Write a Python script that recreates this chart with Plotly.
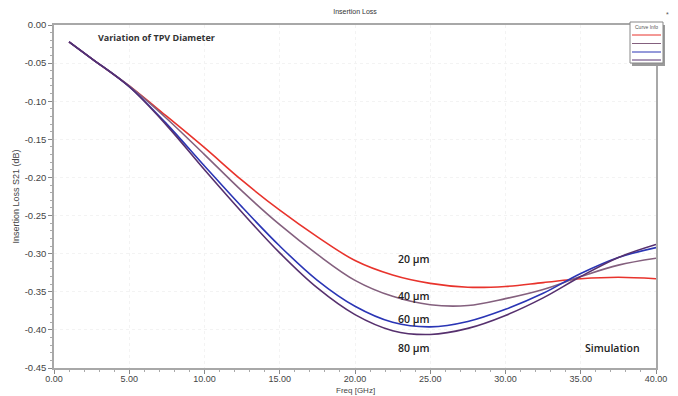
import plotly.graph_objects as go

# ---- data ----
freq_ghz = [1, 2.5, 5, 7.5, 10, 12.5, 15, 17.5, 20, 22.5, 25, 27.5, 30, 32.5, 35, 37.5, 40]
s21_20um = [-0.022, -0.044, -0.080, -0.120, -0.161, -0.204, -0.243, -0.278, -0.309, -0.328,
            -0.339, -0.344, -0.343, -0.338, -0.333, -0.331, -0.333]
s21_40um = [-0.022, -0.044, -0.080, -0.123, -0.170, -0.218, -0.262, -0.301, -0.335, -0.356,
            -0.367, -0.368, -0.359, -0.347, -0.330, -0.315, -0.306]
s21_60um = [-0.022, -0.044, -0.081, -0.130, -0.185, -0.239, -0.290, -0.335, -0.369, -0.390,
            -0.396, -0.389, -0.373, -0.352, -0.326, -0.305, -0.292]
s21_80um = [-0.022, -0.044, -0.081, -0.132, -0.190, -0.246, -0.299, -0.345, -0.380, -0.401,
            -0.406, -0.398, -0.381, -0.358, -0.330, -0.305, -0.288]
series_names = ["20 µm", "40 µm", "60 µm", "80 µm"]
series_colors = ["#e8332c", "#84607e", "#2a35b5", "#56306e"]

x_tick_vals = [0, 5, 10, 15, 20, 25, 30, 35, 40]
x_tick_text = ["0.00", "5.00", "10.00", "15.00", "20.00", "25.00", "30.00", "35.00", "40.00"]
y_tick_vals = [0, -0.05, -0.10, -0.15, -0.20, -0.25, -0.30, -0.35, -0.40, -0.45]
y_tick_text = ["0.00", "-0.05", "-0.10", "-0.15", "-0.20", "-0.25", "-0.30", "-0.35", "-0.40", "-0.45"]

# label positions (data coords) for the curve labels
label_x = [23.9, 23.9, 23.9, 23.9]
label_y = [-0.307, -0.355, -0.386, -0.424]

W, H = 678, 396
ML, MR, MT, MB = 54, 22, 25, 28
PW, PH = W - ML - MR, H - MT - MB
PB = H - MB  # plot bottom pixel


def px(xp):
    return (xp - ML) / PW


def py(yp):
    return (PB - yp) / PH


fig = go.Figure()
for vals, name, col in zip([s21_20um, s21_40um, s21_60um, s21_80um], series_names, series_colors):
    fig.add_trace(go.Scatter(x=freq_ghz, y=vals, mode="lines", name=name,
                             line=dict(color=col, width=1.6, shape="spline", smoothing=1.0),
                             showlegend=False))

axfont = "Liberation Sans, Arial, sans-serif"
tickfont = dict(family=axfont, size=9.5, color="#444444")
fig.update_layout(
    width=W, height=H,
    margin=dict(l=ML, r=MR, t=MT, b=MB, autoexpand=False),
    paper_bgcolor="white", plot_bgcolor="white",
    title=dict(text="Insertion Loss", x=0.5, xref="paper", y=1 - 12 / H, yanchor="middle",
               font=dict(family=axfont, size=7, color="#333333")),
    xaxis=dict(range=[0, 40], tickvals=x_tick_vals, ticktext=x_tick_text,
               tickfont=dict(family=axfont, size=9, color="#444444"),
               automargin=False, ticklabelstandoff=-3,
               ticks="outside", ticklen=4, tickcolor="#888888",
               minor=dict(dtick=1, ticks="outside", ticklen=2, tickcolor="#aaaaaa", showgrid=False),
               showline=True, linecolor="#a8a8a8", linewidth=1.5, mirror=True,
               showgrid=True, gridcolor="#f3f3f3", griddash="dot", zeroline=False),
    yaxis=dict(range=[-0.45, 0], tickvals=y_tick_vals, ticktext=y_tick_text, tickfont=tickfont,
               automargin=False,
               ticks="outside", ticklen=4, tickcolor="#888888",
               minor=dict(dtick=0.01, ticks="outside", ticklen=2, tickcolor="#aaaaaa", showgrid=False),
               showline=True, linecolor="#a8a8a8", linewidth=1.5, mirror=True,
               showgrid=True, gridcolor="#f3f3f3", griddash="dot", zeroline=False,
               title=dict(text="Insertion Loss S21 (dB)", standoff=4,
                          font=dict(family=axfont, size=9, color="#444444"))),
)

# x-axis title as an annotation just below the tick labels
fig.add_annotation(xref="paper", yref="paper", x=0.5, y=py(390), xanchor="center",
                   yanchor="middle", text="Freq [GHz]", showarrow=False,
                   font=dict(family=axfont, size=8, color="#444444"))

labfont = dict(family="Open Sans, sans-serif", size=10.5, color="#222222", weight=600)
for lx, ly, name in zip(label_x, label_y, series_names):
    fig.add_annotation(x=lx, y=ly, text=name, showarrow=False, font=labfont, xanchor="center")
fig.add_annotation(x=37.1, y=-0.424, text="Simulation", showarrow=False, font=labfont, xanchor="center")
fig.add_annotation(x=6.8, y=-0.017, text="Variation of TPV Diameter", showarrow=False, xanchor="center",
                   font=dict(family="Open Sans, sans-serif", size=9, color="#333333", weight=700))

# "Curve Info" legend box (decoration, paper coordinates)
bx0, bx1 = px(630), px(663)
by1, by0 = py(22), py(63)
fig.add_shape(type="rect", xref="paper", yref="paper", x0=px(632), x1=px(665),
              y0=py(66), y1=py(25), fillcolor="#9a9a9a", line=dict(width=0), layer="above")
fig.add_shape(type="rect", xref="paper", yref="paper", x0=bx0, x1=bx1, y0=by0, y1=by1,
              fillcolor="white", line=dict(color="#888888", width=1), layer="above")
fig.add_annotation(xref="paper", yref="paper", x=(bx0 + bx1) / 2, y=py(27), text="Curve Info",
                   xanchor="center", yanchor="middle", showarrow=False,
                   font=dict(family=axfont, size=5, color="#555555"))
legend_rows = [35, 43.5, 52, 60]
for row, col in zip(legend_rows, series_colors):
    fig.add_shape(type="line", xref="paper", yref="paper", x0=px(632), x1=px(661), y0=py(row), y1=py(row),
                  line=dict(color=col, width=1), layer="above")
fig.add_annotation(xref="paper", yref="paper", x=px(667), y=py(15), text="*",
                   xanchor="center", yanchor="middle", showarrow=False,
                   font=dict(family=axfont, size=7, color="#555555"))

fig.write_html("out.html")
